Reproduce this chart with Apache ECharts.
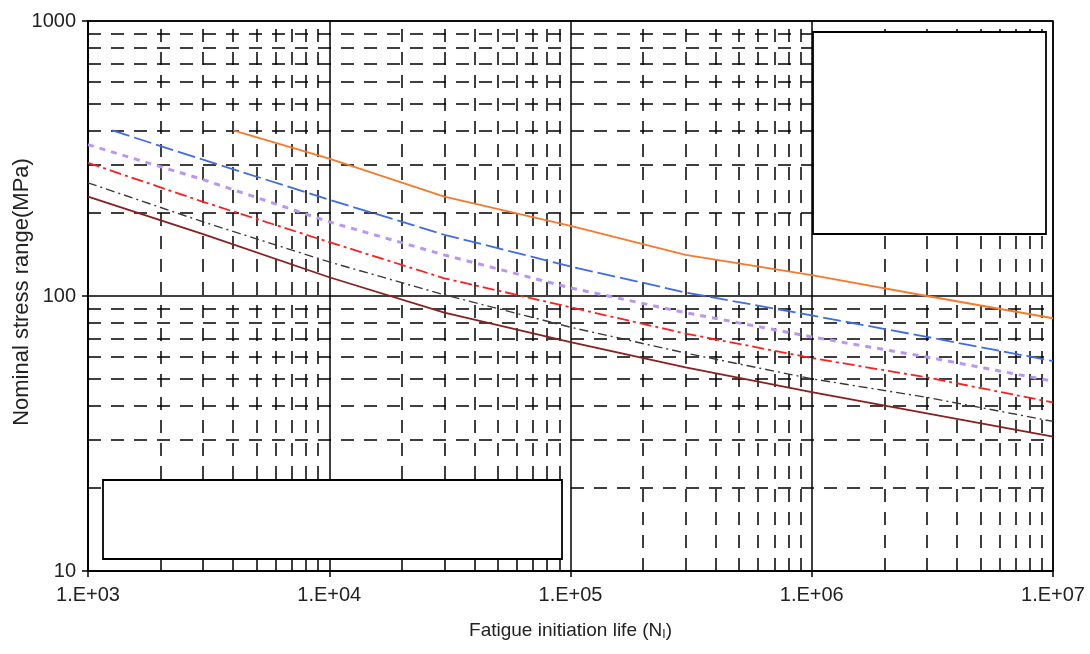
<!DOCTYPE html>
<html>
<head>
<meta charset="utf-8">
<script src="https://cdn.jsdelivr.net/npm/echarts@6/dist/echarts.min.js"></script>
<style>
html,body{margin:0;padding:0;background:#fff;}
#chart{width:1090px;height:654px;}
</style>
</head>
<body>
<div id="chart"></div>
<script>
// ---- data ----
const xTickLabels = ['1.E+03', '1.E+04', '1.E+05', '1.E+06', '1.E+07'];
const yTickLabels = ['10', '100', '1000'];
const yAxisTitle = 'Nominal stress range(MPa)';

const lifeCommon = [1000, 3000, 10000, 30000, 100000, 300000, 1000000, 3000000, 10000000];

const orangeN   = [4000, 10000, 30000, 100000, 300000, 1000000, 3000000, 10000000];
const orangeS   = [400, 316, 230, 180, 141, 119, 100, 83];

const blueN     = [1260, 3000, 10000, 30000, 100000, 300000, 1000000, 3000000, 10000000];
const blueS     = [400, 313, 224, 167, 128, 103, 85, 71, 58];

const lavenderS = [355, 265, 186, 141, 107, 87, 71, 60, 49];
const redS      = [305, 220, 157, 116, 91, 73, 59.5, 50.6, 41];
const blackS    = [258, 186, 133, 101, 77, 62, 50, 42.8, 35];
const darkRedS  = [230, 168, 117, 87, 68, 55, 44.7, 37.4, 30.8];

// ---- minor grid positions (2..9 of each decade) ----
const minorX = [];
for (let d = 3; d < 7; d++) for (let m = 2; m <= 9; m++) minorX.push(m * Math.pow(10, d));
const minorY = [];
for (let d = 1; d < 3; d++) for (let m = 2; m <= 9; m++) minorY.push(m * Math.pow(10, d));

const pairs = (xs, ys) => xs.map((x, i) => [x, ys[i]]);

const FONT = "'Liberation Sans', Arial, sans-serif";

const chart = echarts.init(document.getElementById('chart'), null, {renderer: 'canvas'});

function lineSeries(name, xs, ys, color, width, type) {
  return {
    name: name, type: 'line', data: pairs(xs, ys), z: 5,
    showSymbol: false, symbol: 'none', smooth: false,
    lineStyle: {color: color, width: width, type: type},
    animation: false, silent: true
  };
}

chart.setOption({
  animation: false,
  backgroundColor: '#fff',
  grid: {left: 88, right: 37, top: 21, bottom: 83, containLabel: false, outerBoundsMode: 'none',
         show: true, borderColor: '#000', borderWidth: 1.5, backgroundColor: 'transparent'},
  xAxis: {
    type: 'log', logBase: 10, min: 1000, max: 10000000,
    name: 'Fatigue initiation life ({n|N}{s|I})',
    nameLocation: 'middle', nameGap: 50,
    nameTextStyle: {
      fontFamily: FONT, fontSize: 19, color: '#222',
      rich: {n: {fontFamily: FONT, fontSize: 19, color: '#222'}, s: {fontFamily: FONT, fontSize: 12, color: '#222', verticalAlign: 'bottom', padding: [8, 0, 0, 0]}}
    },
    axisLine: {show: true, lineStyle: {color: '#000', width: 1.5}},
    axisTick: {show: true, inside: false, length: 6, lineStyle: {color: '#000', width: 1.5}},
    axisLabel: {fontFamily: FONT, fontSize: 20, color: '#222', margin: 14,
      formatter: (v, i) => xTickLabels[Math.round(Math.log10(v)) - 3] || ''},
    splitLine: {show: true, lineStyle: {color: '#000', width: 1.5, type: 'solid'}}
  },
  yAxis: {
    type: 'log', logBase: 10, min: 10, max: 1000,
    axisLine: {show: true, lineStyle: {color: '#000', width: 1.5}},
    axisTick: {show: true, inside: false, length: 6, lineStyle: {color: '#000', width: 1.5}},
    axisLabel: {fontFamily: FONT, fontSize: 20, color: '#222', margin: 12,
      formatter: (v) => yTickLabels[Math.round(Math.log10(v)) - 1] || ''},
    splitLine: {show: true, lineStyle: {color: '#000', width: 1.5, type: 'solid'}}
  },
  graphic: [
    {type: 'rect', zlevel: 1, z: 100, shape: {x: 813, y: 32, width: 233, height: 202}, style: {fill: '#fff', stroke: '#000', lineWidth: 1.8}, silent: true},
    {type: 'rect', zlevel: 1, z: 100, shape: {x: 103, y: 480, width: 459, height: 79}, style: {fill: '#fff', stroke: '#000', lineWidth: 1.8}, silent: true},
    {type: 'text', zlevel: 1, x: 22, y: 292, rotation: Math.PI / 2, silent: true,
     style: {text: yAxisTitle, font: "22px 'Liberation Sans', Arial, sans-serif", fill: '#222', align: 'center', verticalAlign: 'middle'}}
  ],
  series: [
    {
      type: 'line', data: [], z: 1, silent: true,
      markLine: {
        silent: true, symbol: 'none', animation: false,
        label: {show: false},
        lineStyle: {color: '#000', width: 1.5, type: [13, 10]},
        data: minorX.map(v => ({xAxis: v})).concat(minorY.map(v => ({yAxis: v})))
      }
    },
    lineSeries('orange', orangeN, orangeS, '#F8792A', 1.8, 'solid'),
    lineSeries('blue', blueN, blueS, '#3D6BEA', 1.8, [18, 5]),
    lineSeries('lavender', lifeCommon, lavenderS, '#BC95F4', 3, [6, 6]),
    lineSeries('red', lifeCommon, redS, '#FF1E1E', 1.8, [12, 4, 3, 4]),
    lineSeries('black', lifeCommon, blackS, '#3a3a3a', 1.4, [9, 4, 2, 4]),
    lineSeries('darkred', lifeCommon, darkRedS, '#8A1F1F', 1.8, 'solid')
  ]
});
</script>
</body>
</html>
